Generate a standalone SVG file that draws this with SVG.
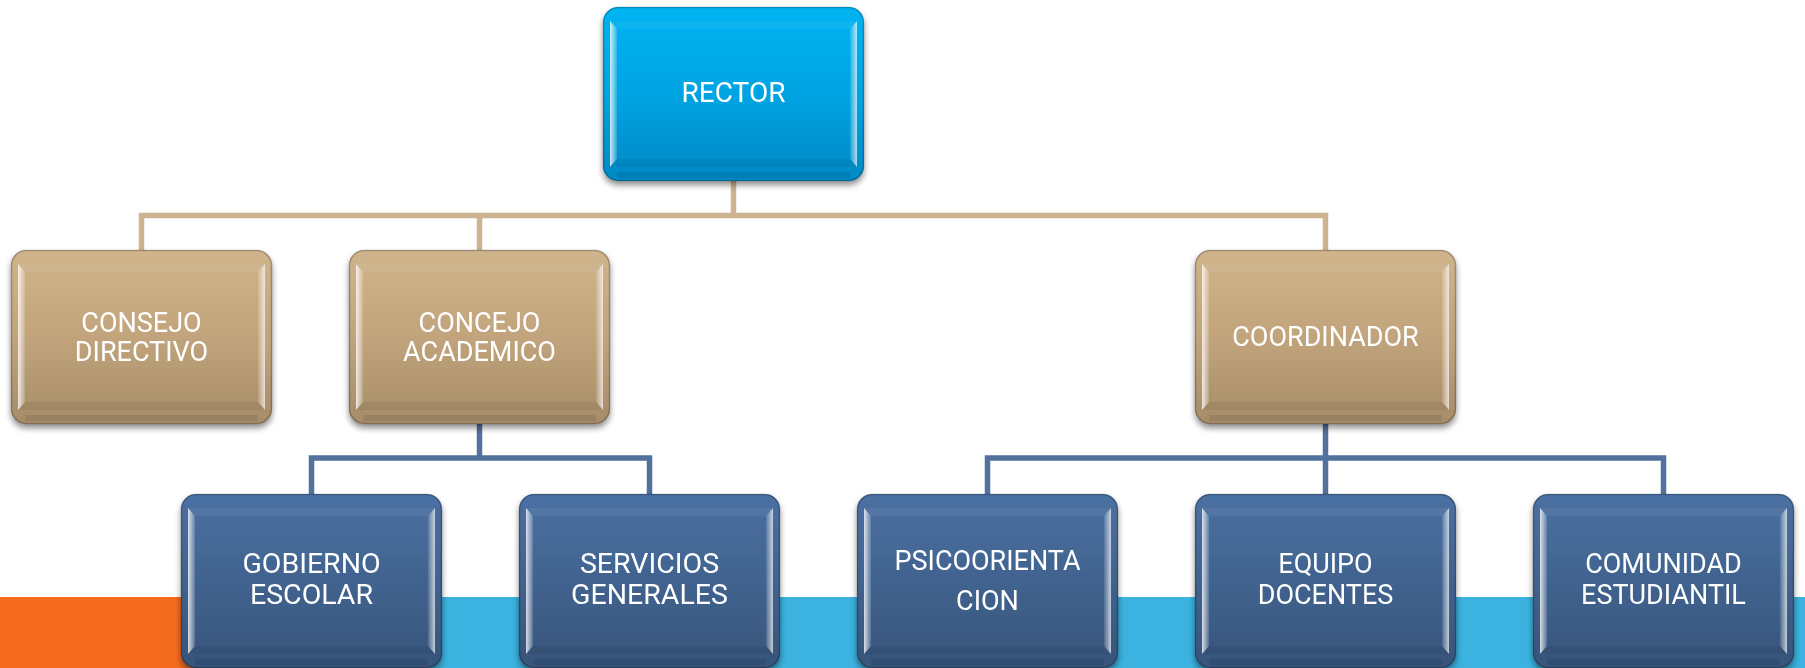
<svg xmlns="http://www.w3.org/2000/svg" xmlns:xlink="http://www.w3.org/1999/xlink" width="1805" height="668" viewBox="0 0 1805 668">
<style>
.lbl{font-family:Roboto,"Liberation Sans",sans-serif;font-size:27px;fill:#ffffff;text-anchor:middle}
.l3{font-size:28.5px}
.tan{stroke:#CDB38F;stroke-width:5.5;fill:none}
.blu{stroke:#52719C;stroke-width:5.5;fill:none}
</style>
<defs>
<linearGradient id="gCyan" x1="0" y1="0" x2="0" y2="1">
<stop offset="0" stop-color="#00B4F2"/><stop offset="0.55" stop-color="#00A2E0"/><stop offset="1" stop-color="#0088C4"/>
</linearGradient>
<linearGradient id="gTan" x1="0" y1="0" x2="0" y2="1">
<stop offset="0" stop-color="#D0B48C"/><stop offset="0.5" stop-color="#C1A47C"/><stop offset="1" stop-color="#A68C68"/>
</linearGradient>
<linearGradient id="gBlue" x1="0" y1="0" x2="0" y2="1">
<stop offset="0" stop-color="#4A70A2"/><stop offset="0.5" stop-color="#41638F"/><stop offset="1" stop-color="#37547A"/>
</linearGradient>
<linearGradient id="gHiL" x1="0" y1="0" x2="1" y2="0">
<stop offset="0" stop-color="#ffffff" stop-opacity="0.8"/><stop offset="1" stop-color="#ffffff" stop-opacity="0.15"/>
</linearGradient>
<linearGradient id="gHiR" x1="0" y1="0" x2="1" y2="0">
<stop offset="0" stop-color="#ffffff" stop-opacity="0.1"/><stop offset="1" stop-color="#ffffff" stop-opacity="0.7"/>
</linearGradient>
<filter id="sh" x="-10%" y="-10%" width="120%" height="125%">
<feGaussianBlur in="SourceAlpha" stdDeviation="3"/>
<feOffset dx="0" dy="4" result="b"/>
<feComponentTransfer><feFuncA type="linear" slope="0.45"/></feComponentTransfer>
<feMerge><feMergeNode/><feMergeNode in="SourceGraphic"/></feMerge>
</filter>
<g id="bevel">
<rect x="0.5" y="0.5" width="260" height="173" rx="15" fill="none" stroke="#000000" stroke-opacity="0.22" stroke-width="1.5"/>
<rect x="14" y="165" width="233" height="6" fill="#000000" fill-opacity="0.08"/>
<polygon points="7,14 14,22 14,152 7,160" fill="url(#gHiL)"/>
<polygon points="254,14 247,22 247,152 254,160" fill="url(#gHiR)"/>
<polygon points="7,14 14,22 247,22 254,14" fill="#ffffff" fill-opacity="0.06"/>
<polygon points="7,160 14,152 247,152 254,160" fill="#000000" fill-opacity="0.06"/>
</g>
</defs>
<rect x="0" y="0" width="1805" height="668" fill="#ffffff"/>
<rect x="250" y="597" width="1555" height="71" fill="#3BB2DF"/>
<rect x="0" y="597" width="260" height="71" fill="#F46B1E"/>

<g id="connectors">
<path class="tan" d="M733.5 181 V215.5"/>
<path class="tan" d="M141.5 251 V215.5 H1325.5 V251"/>
<path class="tan" d="M479.5 215.5 V251"/>
<path class="blu" d="M479.5 424 V458"/>
<path class="blu" d="M311.5 494 V458 H649.5 V494"/>
<path class="blu" d="M1325.5 424 V494"/>
<path class="blu" d="M987.5 494 V458 H1663.5 V494"/>
</g>

<g id="rector" filter="url(#sh)">
<rect x="603" y="7" width="261" height="174" rx="15" fill="url(#gCyan)"/>
<use href="#bevel" x="603" y="7"/>
<text class="lbl" x="733.5" y="102" style="font-size:28px">RECTOR</text>
</g>

<g id="consejo-directivo" filter="url(#sh)">
<rect x="11" y="250" width="261" height="174" rx="15" fill="url(#gTan)"/>
<use href="#bevel" x="11" y="250"/>
<text class="lbl" x="141.5" y="332">CONSEJO</text>
<text class="lbl" x="141.5" y="361">DIRECTIVO</text>
</g>

<g id="concejo-academico" filter="url(#sh)">
<rect x="349" y="250" width="261" height="174" rx="15" fill="url(#gTan)"/>
<use href="#bevel" x="349" y="250"/>
<text class="lbl" x="479.5" y="332">CONCEJO</text>
<text class="lbl" x="479.5" y="361">ACADEMICO</text>
</g>

<g id="coordinador" filter="url(#sh)">
<rect x="1195" y="250" width="261" height="174" rx="15" fill="url(#gTan)"/>
<use href="#bevel" x="1195" y="250"/>
<text class="lbl" x="1325.5" y="346">COORDINADOR</text>
</g>

<g id="gobierno-escolar" filter="url(#sh)">
<rect x="181" y="494" width="261" height="174" rx="15" fill="url(#gBlue)"/>
<use href="#bevel" x="181" y="494"/>
<text class="lbl l3" x="311.5" y="573">GOBIERNO</text>
<text class="lbl l3" x="311.5" y="604">ESCOLAR</text>
</g>

<g id="servicios-generales" filter="url(#sh)">
<rect x="519" y="494" width="261" height="174" rx="15" fill="url(#gBlue)"/>
<use href="#bevel" x="519" y="494"/>
<text class="lbl l3" x="649.5" y="573">SERVICIOS</text>
<text class="lbl l3" x="649.5" y="604">GENERALES</text>
</g>

<g id="psicoorientacion" filter="url(#sh)">
<rect x="857" y="494" width="261" height="174" rx="15" fill="url(#gBlue)"/>
<use href="#bevel" x="857" y="494"/>
<text class="lbl" x="987.5" y="570">PSICOORIENTA</text>
<text class="lbl" x="987.5" y="610">CION</text>
</g>

<g id="equipo-docentes" filter="url(#sh)">
<rect x="1195" y="494" width="261" height="174" rx="15" fill="url(#gBlue)"/>
<use href="#bevel" x="1195" y="494"/>
<text class="lbl" x="1325.5" y="573">EQUIPO</text>
<text class="lbl" x="1325.5" y="604">DOCENTES</text>
</g>

<g id="comunidad-estudiantil" filter="url(#sh)">
<rect x="1533" y="494" width="261" height="174" rx="15" fill="url(#gBlue)"/>
<use href="#bevel" x="1533" y="494"/>
<text class="lbl" x="1663.5" y="573">COMUNIDAD</text>
<text class="lbl" x="1663.5" y="604">ESTUDIANTIL</text>
</g>
</svg>
